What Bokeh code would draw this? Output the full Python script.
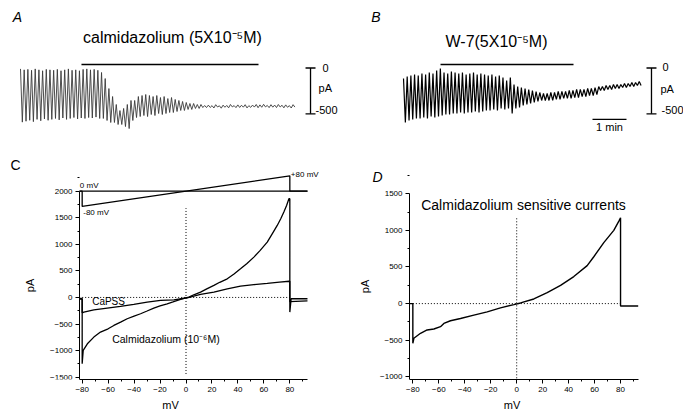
from bokeh.plotting import figure
from bokeh.models import Range1d, Label, FixedTicker
from bokeh.layouts import column, row
from bokeh.embed import file_html
from bokeh.resources import INLINE

FONT = "Liberation Sans"

# ---------------- data: panel A / B oscillation traces (pA per half-cycle) ----
HALF_PERIOD_S = 3.25  # seconds between a peak and the following trough

a_peaks = [-10, -20, -15, -25, -10, -20, -30, -15, -20, -25, -15, -30, -20, -10, -25, -20, -30, -15, -10, -20, -15, -25,
           -49, -115, -224, -311, -398, -464,
           -441, -398, -354,
           -354, -311, -300, -289, -300, -311, -300, -322, -311, -333, -322,
           -343, -354, -365, -376, -387, -387, -398, -398, -409,
           -405, -410, -400, -412, -405, -408, -398, -410, -402, -406, -400, -410, -404, -398, -402, -396, -408, -400,
           -404, -398, -406, -402, -410, -400]
a_troughs = [-590, -580, -570, -585, -560, -575, -555, -570, -560, -550, -565, -545, -560, -550, -540, -555, -545, -550, -540, -545, -535, -550,
             -550, -572, -594, -594, -616, -616,
             -638, -660, -572,
             -540, -529, -518, -529, -507, -518, -496, -507, -496, -485, -485,
             -474, -463, -463, -452, -452, -441, -441, -431, -431,
             -430, -436, -425, -438, -428, -434, -424, -432, -430, -427, -435, -429, -426, -433, -428, -424, -432, -427,
             -431, -425, -434, -428, -436, -426]

b_peaks = [-114, -93, -82, -71, -82, -60, -71, -49, -60, -27,
           -5, -49, -60, -38, -49, -60, -49, -71, -60, -49, -71, -60, -71, -82, -71, -93, -82, -104, -136,
           -104,
           -180, -202, -213, -223, -234, -245, -256, -267, -278,
           -278, -267, -267, -256, -256, -256, -245, -245, -234, -234, -234, -223, -223, -213,
           -202, -202, -191, -191, -180, -180, -180, -169, -169, -158, -158, -147]
b_troughs = [-594, -572, -561, -550, -550, -540, -550, -529, -540, -529,
             -518, -507, -507, -496, -496, -485, -496, -485, -485, -474, -485, -474, -463, -463, -452, -463, -441, -452, -441,
             -496,
             -441, -431, -409, -398, -387, -376, -365, -354, -354,
             -354, -354, -343, -343, -332, -332, -332, -322, -322, -311, -311, -300, -300, -289,
             -245, -245, -234, -234, -223, -223, -213, -213, -202, -202, -191, -191]

drug_a = (107.6, 420.0)      # s, application bar panel A
drug_b = (65.3, 300.0)       # s, application bar panel B
scale_pa = [0, -500]
scale_min_s = 60

# ---------------- data: panel C (I-V curves, mV / pA) ----------------------
calm_mv = [-82, -80, -80, -79.2, -76, -71, -65.9, -60, -55.6, -50, -45.3, -40, -35, -30, -24.8, -20, -14.5,
           -10, -4.2, 2.2, 6, 11.2, 16, 21.5, 26, 31.8, 37, 42, 47, 52.3, 57, 62.6, 67, 70.3, 73, 75.4, 77.5,
           79.3, 80, 80, 81, 93.6]
calm_pa = [-20, -20, -1248, -997, -872, -746, -652, -590, -527, -460, -401, -350, -307, -255, -200, -160, -119,
           -85, -38, 6, 50, 100, 160, 226, 285, 351, 440, 539, 640, 759, 880, 1041, 1220, 1355, 1480, 1606, 1730,
           1857, 1857, -276, -25, -25]
capss_mv = [-82, -80, -80, -78.7, -71, -60.7, -50.5, -40.2, -29.9, -19.6, -9.3, 0.9, 11.2, 21.5, 31.8, 42,
            52.3, 62.6, 72, 79.5, 80, 80, 93.6]
capss_pa = [-30, -30, -290, -276, -232, -200, -169, -132, -88, -56, -44, -6, 56, 100, 163, 213,
            240, 265, 290, 305, 305, -80, -65]
# voltage protocol inset: holding 0 mV, step to -80 mV, ramp to +80 mV, back to 0 mV
proto_x = [-82, -80, -80, 80, 80, 93.6]
proto_mv = [0, 0, -80, 80, 0, 0]

# ---------------- data: panel D (difference current) -------------------------
diff_mv = [-82.5, -80, -80, -79.2, -74.1, -69, -63.8, -58.7, -56.1, -51, -43.3, -33, -22.7, -12.5, -2.2, 3,
           13.2, 23.5, 33.8, 44, 54.3, 59.4, 67.1, 74.8, 78.7, 80, 80, 93.6]
diff_pa = [0, 0, -541, -473, -405, -360, -347, -315, -270, -234, -203, -158, -113, -59, -14, 9,
           63, 149, 248, 369, 518, 640, 833, 1000, 1126, 1171, -32, -32]

c_yticks = [-1500, -1000, -500, 0, 500, 1000, 1500, 2000]
d_yticks = [-1000, -500, 0, 500, 1000, 1500]
iv_xticks = [-80, -60, -40, -20, 0, 20, 40, 60, 80]


def zigzag(peaks, troughs):
    ys = []
    for pk, tr in zip(peaks, troughs):
        ys += [pk, tr]
    xs = [i * HALF_PERIOD_S for i in range(len(ys))]
    return xs, ys


def lab(p, x, y, text, size, align="left", baseline="middle", style="normal"):
    p.add_layout(Label(x=x, y=y, text=text, text_font=FONT, text_font_size=f"{size}px",
                       text_align=align, text_baseline=baseline, text_font_style=style,
                       text_color="black"))


def top_fig(width, x0, x1):
    p = figure(width=width, height=150, x_range=Range1d(x0, x1), y_range=Range1d(-899.25, 735.75),
               output_backend="svg", toolbar_location=None, min_border=0,
               x_axis_location=None, y_axis_location=None)
    p.grid.visible = False
    p.outline_line_color = None
    p.background_fill_color = "white"
    return p


# ---------------- Panel A ----------------
pa = top_fig(340, -35.29, 564.7)
xa, ya = zigzag(a_peaks, a_troughs)
pa.line(xa, ya, line_color="#3a3a3a", line_width=0.9)
pa.line(list(drug_a), [38, 38], line_color="black", line_width=1.3)
sa = 511.8
pa.line([sa, sa], scale_pa, line_color="black", line_width=1.3)
pa.line([sa - 8.8, sa + 8.8], [scale_pa[0]] * 2, line_color="black", line_width=1.3)
pa.line([sa - 8.8, sa + 8.8], [scale_pa[1]] * 2, line_color="black", line_width=1.3)
lab(pa, 532.9, 0, "0", 11)
lab(pa, 525.9, -223, "pA", 11)
lab(pa, 520.6, -458, "-500", 11)
lab(pa, 268.2, 332.5, "calmidazolium (5X10\u207b\u2075M)", 16, align="center")
lab(pa, -5.3, 550.5, "A", 14, align="center", style="italic")

# ---------------- Panel B ----------------
pb = top_fig(343, -111.2, 494.1)
xb, yb = zigzag(b_peaks, b_troughs)
pb.line(xb, yb, line_color="black", line_width=1.2)
pb.line(list(drug_b), [38, 38], line_color="black", line_width=1.3)
sb = 437.6
pb.line([sb, sb], scale_pa, line_color="black", line_width=1.3)
pb.line([sb - 8.8, sb + 8.8], [scale_pa[0]] * 2, line_color="black", line_width=1.3)
pb.line([sb - 8.8, sb + 8.8], [scale_pa[1]] * 2, line_color="black", line_width=1.3)
pb.line([333.5, 333.5 + scale_min_s], [-561, -561], line_color="black", line_width=1.3)
lab(pb, 363.5, -638, "1 min", 11, align="center")
lab(pb, 457.1, 9, "0", 11)
lab(pb, 453.5, -227, "pA", 11)
lab(pb, 455.3, -463, "-500", 11)
lab(pb, 164.1, 288.9, "W-7(5X10\u207b\u2075M)", 16, align="center")
lab(pb, -48.5, 550.5, "B", 14, align="center", style="italic")


def iv_fig(width, xr, yr, xbounds, ybounds, yticks, ystand):
    p = figure(width=width, height=265, x_range=Range1d(*xr), y_range=Range1d(*yr),
               output_backend="svg", toolbar_location=None,
               min_border_left=0, min_border_right=0, min_border_top=0, min_border_bottom=36)
    p.grid.visible = False
    p.outline_line_color = None
    for ax in (p.xaxis[0], p.yaxis[0]):
        ax.axis_line_color = "black"
        ax.axis_line_width = 1
        ax.major_tick_in = 0
        ax.major_tick_out = 4
        ax.minor_tick_in = 0
        ax.minor_tick_out = 2
        ax.major_label_text_font = FONT
        ax.major_label_text_font_size = "8px"
        ax.major_label_text_color = "black"
        ax.major_label_standoff = 3
        ax.axis_label_text_font = FONT
        ax.axis_label_text_font_size = "11px"
        ax.axis_label_text_font_style = "normal"
        ax.axis_label_text_color = "black"
    p.xaxis.ticker = FixedTicker(ticks=iv_xticks, minor_ticks=[-70, -50, -30, -10, 10, 30, 50, 70, 90])
    p.yaxis.ticker = FixedTicker(ticks=yticks, minor_ticks=[t + 250 for t in yticks])
    p.xaxis.bounds = xbounds
    p.yaxis.bounds = ybounds
    p.yaxis.fixed_location = xbounds[0]
    p.xaxis.axis_label = "mV"
    p.yaxis.axis_label = "pA"
    p.xaxis.axis_label_standoff = 4
    p.yaxis.axis_label_standoff = ystand
    return p


# ---------------- Panel C ----------------
pc = iv_fig(340, (-142.93, 119.04), (-1544, 2765), (-82.06, 93.61), (-1544, 2000), c_yticks, 11)
pc.line([-80, 80], [0, 0], line_color="black", line_width=1, line_dash="1 2")
pc.line([0, 0], [-1440, 1680], line_color="black", line_width=1, line_dash="1 2")
pc.line(capss_mv, capss_pa, line_color="black", line_width=1.3)
pc.line(calm_mv, calm_pa, line_color="black", line_width=1.3)
pc.line([-82.06, 93.61], [2000, 2000], line_color="black", line_width=1.3)
pc.line(proto_x, [2000 + v * 3.6 for v in proto_mv], line_color="black", line_width=1.3)
lab(pc, -81.8, 2107, "0 mV", 8)
lab(pc, -79.2, 1604, "-80 mV", 8)
lab(pc, 80.8, 2314, "+80 mV", 8)
lab(pc, -72.3, -85, "CaPSS", 10)
lab(pc, -56.9, -778, "Calmidazolium (10\u207b\u2076M)", 10.5)
lab(pc, -131.4, 2483, "C", 14, align="center")

# ---------------- Panel D ----------------
pd_ = iv_fig(343, (-135.73, 128.5), (-1036, 2090), (-82.57, 93.6), (-1036, 1500), d_yticks, 6)
pd_.line([-80, 80], [0, 0], line_color="black", line_width=1, line_dash="1 2")
pd_.line([0, 0], [-1020, 1171], line_color="black", line_width=1, line_dash="1 2")
pd_.line(diff_mv, diff_pa, line_color="black", line_width=1.4)
lab(pd_, 5.26, 1347, "Calmidazolium sensitive currents", 14, align="center")
lab(pd_, -107.2, 1725, "D", 14, align="center", style="italic")

layout = column(row(pa, pb, spacing=0), row(pc, pd_, spacing=0), spacing=0)
open("out.html", "w").write(file_html(layout, INLINE))
